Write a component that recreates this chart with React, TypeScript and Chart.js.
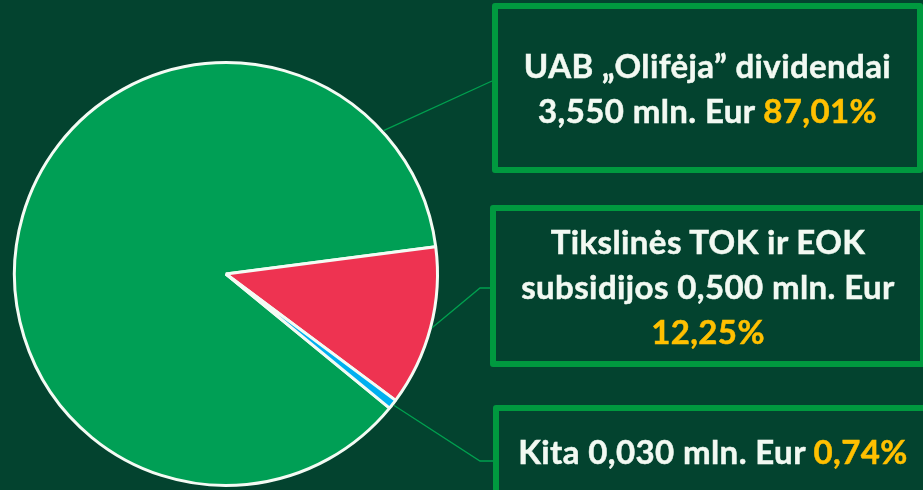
import React, { useEffect, useRef } from "react";
import { Chart, registerables } from "chart.js";

Chart.register(...registerables);

// ---- data ----
const categories = ["UAB „Olifėja\u201D dividendai", "Tikslinės TOK ir EOK subsidijos", "Kita"];
const valuesMln = [3.55, 0.5, 0.03];
const sliceColors = ["#009f55", "#ee3351", "#00aff0"];
const unitLabel = "mln. Eur";

// ---- style / layout ----
const BG = "#03432f";
const BOX_BORDER = "#00993f";
const TEXT = "#f2f9f2";
const PCT = "#ffc000";
const LINE = "#00a04f";

const total = valuesMln.reduce((a, b) => a + b, 0);
const fmtNum = (v: number, d: number) => v.toFixed(d).replace(".", ",");
const pctText = (v: number) => fmtNum((v / total) * 100, 2) + "%";

// anchor angle override (degrees, clockwise from 3 o'clock); null = slice middle
const anchorAngles: (number | null)[] = [-42.3, null, null];
const leaderPaths: [number, number][][] = [
  [[492, 81]],
  [[480, 288], [490, 288]],
  [[480, 461], [493, 461]],
];

const leaderPlugin = {
  id: "leaders",
  afterDatasetsDraw(chart: any) {
    const meta = chart.getDatasetMeta(0);
    const ctx = chart.ctx as CanvasRenderingContext2D;
    ctx.save();
    ctx.strokeStyle = LINE;
    ctx.lineWidth = 1.3;
    meta.data.forEach((arc: any, i: number) => {
      const p = arc.getProps(["x", "y", "startAngle", "endAngle", "outerRadius"], true);
      const a = anchorAngles[i];
      const ang = a === null ? (p.startAngle + p.endAngle) / 2 : (a * Math.PI) / 180;
      const r = p.outerRadius + 1.5;
      ctx.beginPath();
      ctx.moveTo(p.x + Math.cos(ang) * r, p.y + Math.sin(ang) * r);
      leaderPaths[i].forEach(([x, y]) => ctx.lineTo(x, y));
      ctx.stroke();
    });
    ctx.restore();
  },
};

const boxes = [
  { left: 492, top: 3, width: 431, height: 170 },
  { left: 490, top: 205, width: 436, height: 162 },
  { left: 493, top: 405, width: 440, height: 94 },
];

function BoxText({ i }: { i: number }) {
  const amount = fmtNum(valuesMln[i], 3) + " " + unitLabel;
  const pct = <span style={{ color: PCT, WebkitTextStrokeColor: PCT }}>{pctText(valuesMln[i])}</span>;
  if (i === 0)
    return (
      <>
        {categories[0]}
        <br />
        {amount} {pct}
      </>
    );
  if (i === 1) {
    const words = categories[1].split(" ");
    return (
      <>
        {words.slice(0, 4).join(" ")}
        <br />
        {words.slice(4).join(" ")} {amount}
        <br />
        {pct}
      </>
    );
  }
  return (
    <>
      {categories[i]} {amount} {pct}
    </>
  );
}

export default function App() {
  const ref = useRef<HTMLCanvasElement | null>(null);
  useEffect(() => {
    document.body.style.margin = "0";
    document.body.style.background = BG;
    const chart = new Chart(ref.current as HTMLCanvasElement, {
      type: "pie",
      data: {
        labels: categories,
        datasets: [
          {
            data: valuesMln,
            backgroundColor: sliceColors,
            borderColor: "#f4fbf4",
            borderWidth: 3,
          },
        ],
      },
      options: {
        animation: false,
        responsive: false,
        rotation: 129.35,
        radius: 211.5,
        layout: { padding: { left: 13, top: 61, right: 484, bottom: 3 } },
        plugins: { legend: { display: false }, tooltip: { enabled: false } },
      },
      plugins: [leaderPlugin],
    });
    return () => chart.destroy();
  }, []);

  return (
    <div
      style={{
        position: "absolute",
        left: 0,
        top: 0,
        width: 923,
        height: 490,
        overflow: "hidden",
        background: BG,
      }}
    >
      <canvas ref={ref} width={923} height={490} style={{ position: "absolute", left: 0, top: 0, width: 923, height: 490 }} />
      {boxes.map((b, i) => (
        <div
          key={i}
          style={{
            position: "absolute",
            left: b.left,
            top: b.top,
            width: b.width,
            height: b.height,
            boxSizing: "border-box",
            border: `6px solid ${BOX_BORDER}`,
            borderRadius: 3,
            display: "flex",
            alignItems: "center",
            justifyContent: "center",
            textAlign: "center",
            color: TEXT,
            fontFamily: "Lato, 'Open Sans', sans-serif",
            fontWeight: 700,
            fontSize: 33,
            letterSpacing: "0.4px",
            lineHeight: "45px",
            whiteSpace: "nowrap",
            WebkitTextStroke: `0.5px ${TEXT}`,
          }}
        >
          <div style={{ marginTop: i === 2 ? -2 : 0 }}>
            <BoxText i={i} />
          </div>
        </div>
      ))}
    </div>
  );
}
